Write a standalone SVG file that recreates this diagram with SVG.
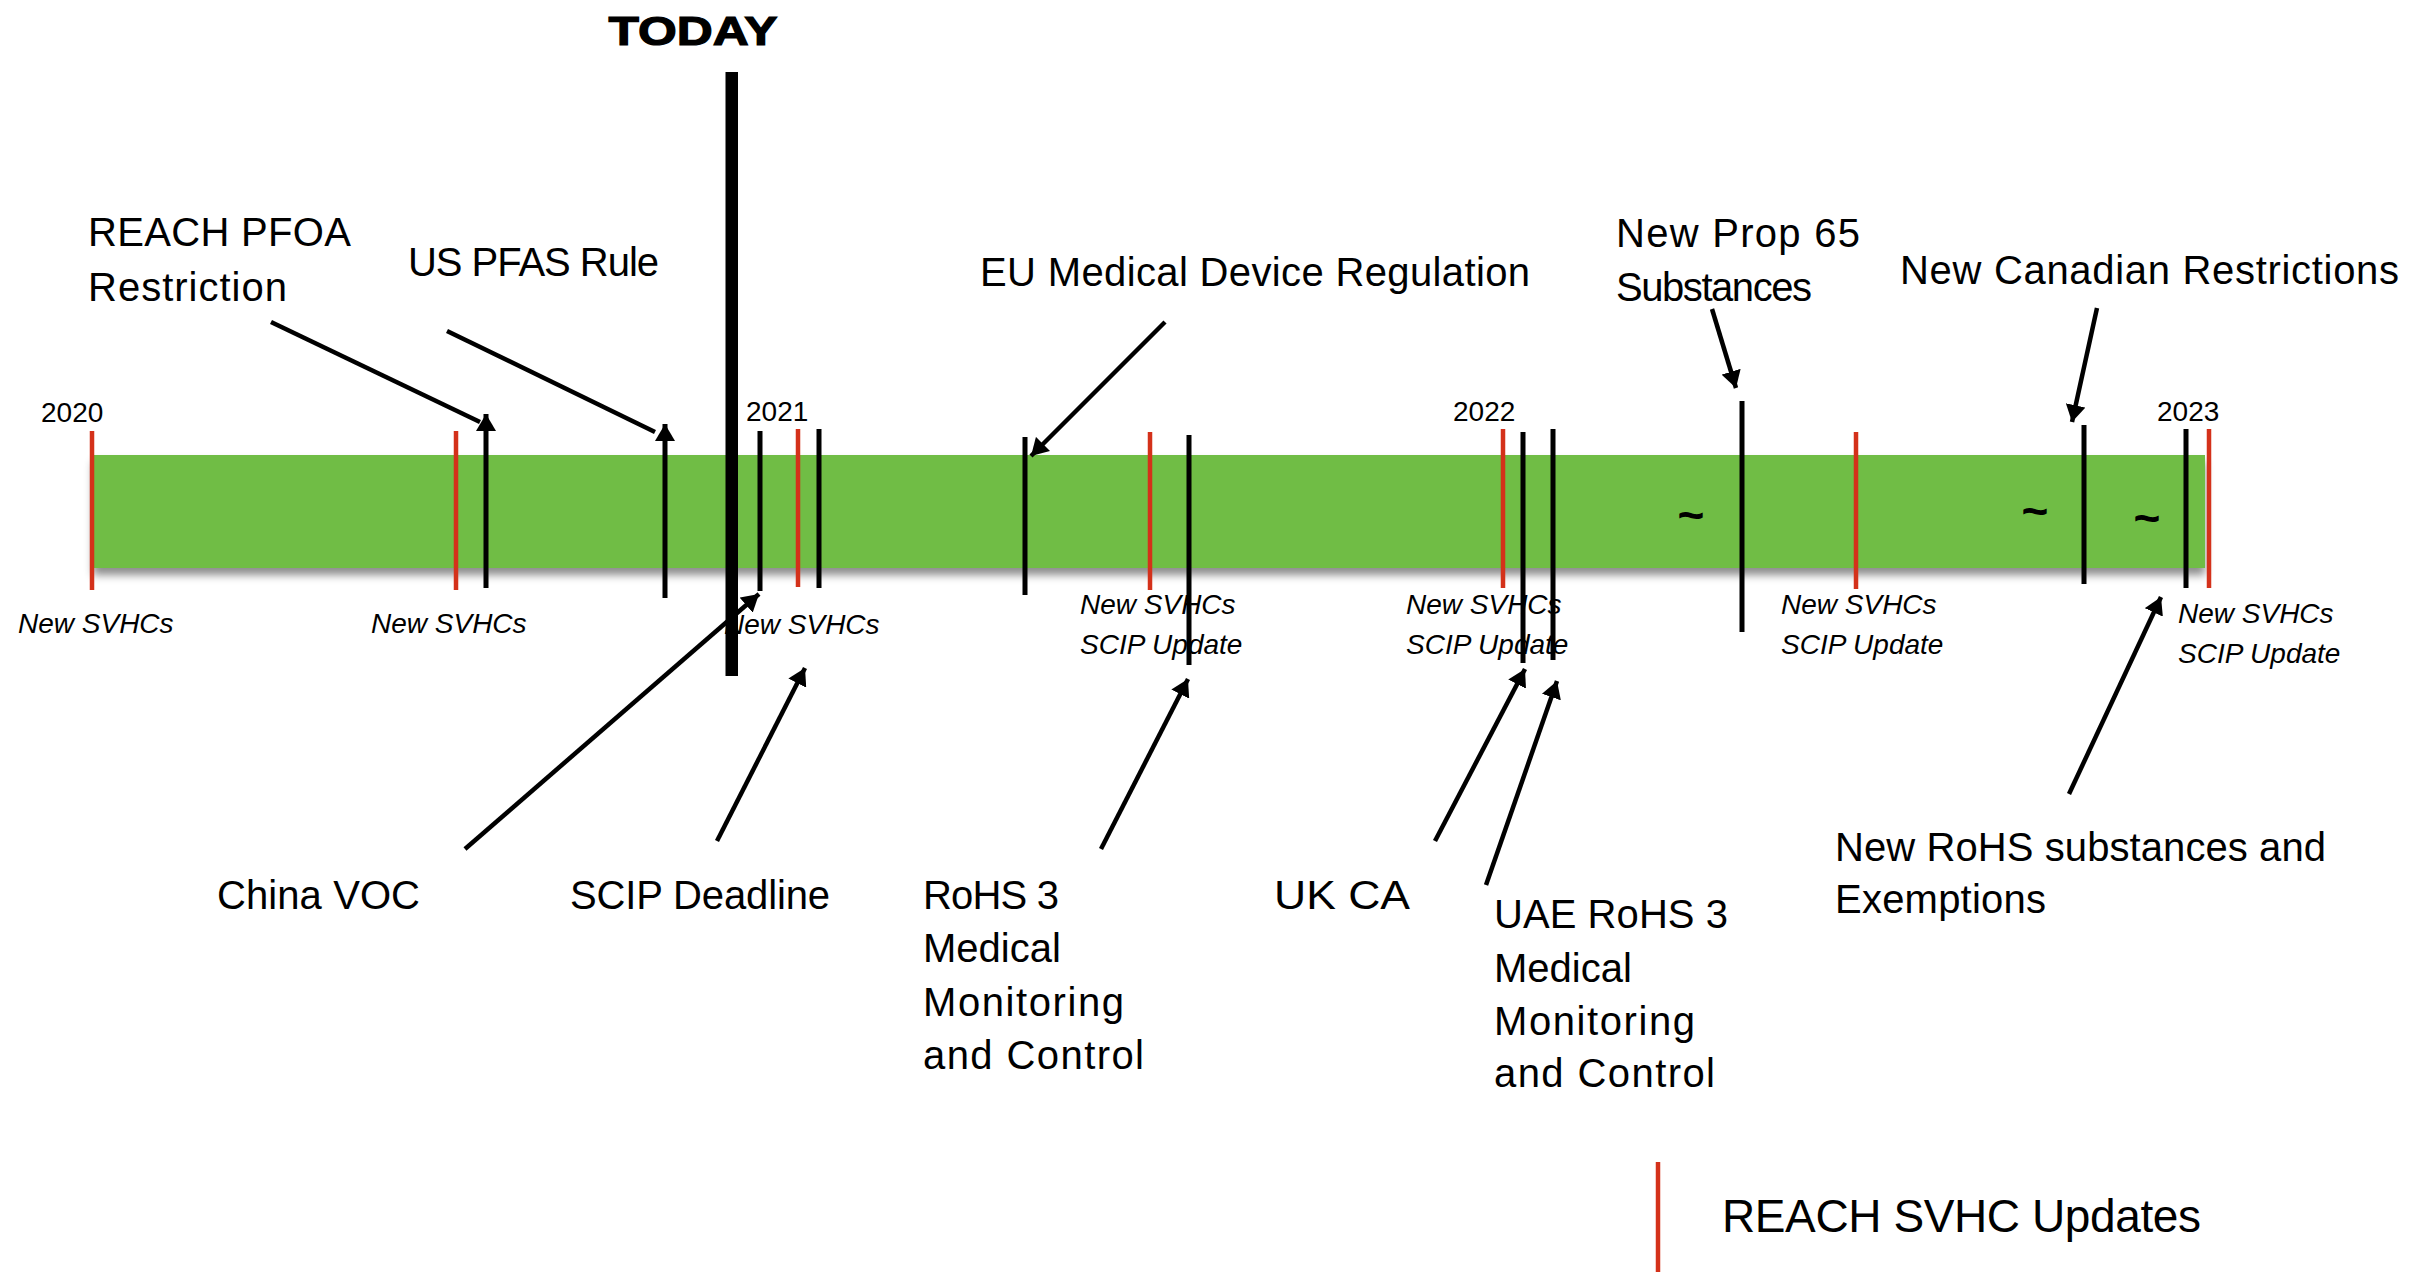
<svg xmlns="http://www.w3.org/2000/svg" width="2432" height="1272" viewBox="0 0 2432 1272">
<style>
text{font-family:"Liberation Sans",Arial,sans-serif;fill:#000}
.lbl{font-size:40px}
.yr{font-size:28px}
.it{font-size:28px;font-style:italic}
.red{stroke:#d4311a;stroke-width:4.5}
.blk{stroke:#000;stroke-width:5}
.con{stroke:#000;stroke-width:4.5;fill:none}
.arr{marker-end:url(#ah)}
.tl{font-size:46px;font-weight:bold;text-anchor:middle}
</style>
<defs>
<marker id="ah" markerUnits="userSpaceOnUse" markerWidth="20" markerHeight="20" viewBox="0 0 20 20" refX="17" refY="10" orient="auto">
<path d="M0,0 L17,10 L0,20 z" fill="#000"/>
</marker>
<filter id="sh" x="-5%" y="-20%" width="110%" height="150%">
<feDropShadow dx="0" dy="7" stdDeviation="4" flood-color="#000" flood-opacity="0.45"/>
</filter>
</defs>
<rect width="2432" height="1272" fill="#fff"/>

<g id="timeline-bar">
<rect x="93" y="455" width="2112" height="113" fill="#70bd44" filter="url(#sh)"/>
<text class="tl" x="1691" y="531">~</text>
<text class="tl" x="2035" y="527">~</text>
<text class="tl" x="2147" y="534">~</text>
</g>

<g id="years">
<text class="yr" x="41" y="422">2020</text>
<text class="yr" x="746" y="421">2021</text>
<text class="yr" x="1453" y="421">2022</text>
<text class="yr" x="2157" y="421">2023</text>
</g>

<g id="svhc-labels">
<text class="it" x="18" y="633">New SVHCs</text>
<text class="it" x="371" y="633">New SVHCs</text>
<text class="it" x="724" y="634">New SVHCs</text>
<text class="it" x="1080" y="614">New SVHCs</text>
<text class="it" x="1080" y="654">SCIP Update</text>
<text class="it" x="1406" y="614">New SVHCs</text>
<text class="it" x="1406" y="654">SCIP Update</text>
<text class="it" x="1781" y="614">New SVHCs</text>
<text class="it" x="1781" y="654">SCIP Update</text>
<text class="it" x="2178" y="623">New SVHCs</text>
<text class="it" x="2178" y="663">SCIP Update</text>
</g>

<g id="reach-ticks">
<line class="red" x1="92" y1="431" x2="92" y2="590"/>
<line class="red" x1="456" y1="431" x2="456" y2="590"/>
<line class="red" x1="798" y1="429" x2="798" y2="587"/>
<line class="red" x1="1150" y1="432" x2="1150" y2="590"/>
<line class="red" x1="1503" y1="429" x2="1503" y2="588"/>
<line class="red" x1="1856" y1="432" x2="1856" y2="589"/>
<line class="red" x1="2209" y1="429" x2="2209" y2="588"/>
</g>

<g id="event-ticks">
<line class="blk arr" x1="486" y1="588" x2="486" y2="414"/>
<line class="blk arr" x1="665" y1="598" x2="665" y2="424"/>
<line class="blk" x1="760" y1="431" x2="760" y2="591"/>
<line class="blk" x1="819" y1="429" x2="819" y2="588"/>
<line class="blk" x1="1025" y1="437" x2="1025" y2="595"/>
<line class="blk" x1="1189" y1="435" x2="1189" y2="665"/>
<line class="blk" x1="1523" y1="432" x2="1523" y2="663"/>
<line class="blk" x1="1553" y1="429" x2="1553" y2="660"/>
<line class="blk" x1="1742" y1="401" x2="1742" y2="632"/>
<line class="blk" x1="2084" y1="425" x2="2084" y2="584"/>
<line class="blk" x1="2186" y1="429" x2="2186" y2="588"/>
</g>

<g id="today">
<text x="693" y="45" font-size="41" font-weight="bold" text-anchor="middle" textLength="169" lengthAdjust="spacingAndGlyphs" stroke="#000" stroke-width="1.2">TODAY</text>
<rect x="725.5" y="72" width="12.5" height="604" fill="#000"/>
</g>

<g id="connectors">
<line class="con" x1="271" y1="322" x2="480" y2="422"/>
<line class="con" x1="447" y1="331" x2="655" y2="432"/>
<line class="con arr" x1="1165" y1="322" x2="1031" y2="456"/>
<line class="con arr" x1="1712" y1="309" x2="1736" y2="388"/>
<line class="con arr" x1="2097" y1="308" x2="2072" y2="422"/>
<line class="con arr" x1="465" y1="849" x2="759" y2="594"/>
<line class="con arr" x1="717" y1="841" x2="805" y2="668"/>
<line class="con arr" x1="1101" y1="849" x2="1188" y2="679"/>
<line class="con arr" x1="1435" y1="841" x2="1525" y2="669"/>
<line class="con arr" x1="1486" y1="885" x2="1557" y2="681"/>
<line class="con arr" x1="2069" y1="794" x2="2161" y2="597"/>
</g>

<g id="label-reach-pfoa">
<text class="lbl" x="88" y="246" textLength="263">REACH PFOA</text>
<text class="lbl" x="88" y="301" textLength="199">Restriction</text>
</g>
<g id="label-us-pfas"><text class="lbl" x="408" y="276" textLength="251">US PFAS Rule</text></g>
<g id="label-eu-mdr"><text class="lbl" x="980" y="286" textLength="550">EU Medical Device Regulation</text></g>
<g id="label-prop65">
<text class="lbl" x="1616" y="247" textLength="244">New Prop 65</text>
<text class="lbl" x="1616" y="301" textLength="196">Substances</text>
</g>
<g id="label-canada"><text class="lbl" x="1900" y="284" textLength="499">New Canadian Restrictions</text></g>
<g id="label-china-voc"><text class="lbl" x="217" y="909" textLength="203">China VOC</text></g>
<g id="label-scip"><text class="lbl" x="570" y="909" textLength="260">SCIP Deadline</text></g>
<g id="label-rohs3">
<text class="lbl" x="923" y="909" textLength="136">RoHS 3</text>
<text class="lbl" x="923" y="962">Medical</text>
<text class="lbl" x="923" y="1016" textLength="201">Monitoring</text>
<text class="lbl" x="923" y="1069" textLength="221">and Control</text>
</g>
<g id="label-ukca"><text class="lbl" x="1274" y="909" textLength="136" lengthAdjust="spacingAndGlyphs">UK CA</text></g>
<g id="label-uae">
<text class="lbl" x="1494" y="928" textLength="234">UAE RoHS 3</text>
<text class="lbl" x="1494" y="982">Medical</text>
<text class="lbl" x="1494" y="1035" textLength="201">Monitoring</text>
<text class="lbl" x="1494" y="1087" textLength="221">and Control</text>
</g>
<g id="label-new-rohs">
<text class="lbl" x="1835" y="861" textLength="491">New RoHS substances and</text>
<text class="lbl" x="1835" y="913" textLength="211">Exemptions</text>
</g>

<g id="legend">
<line class="red" x1="1658" y1="1162" x2="1658" y2="1272"/>
<text x="1722" y="1232" font-size="46" textLength="479">REACH SVHC Updates</text>
</g>
</svg>
